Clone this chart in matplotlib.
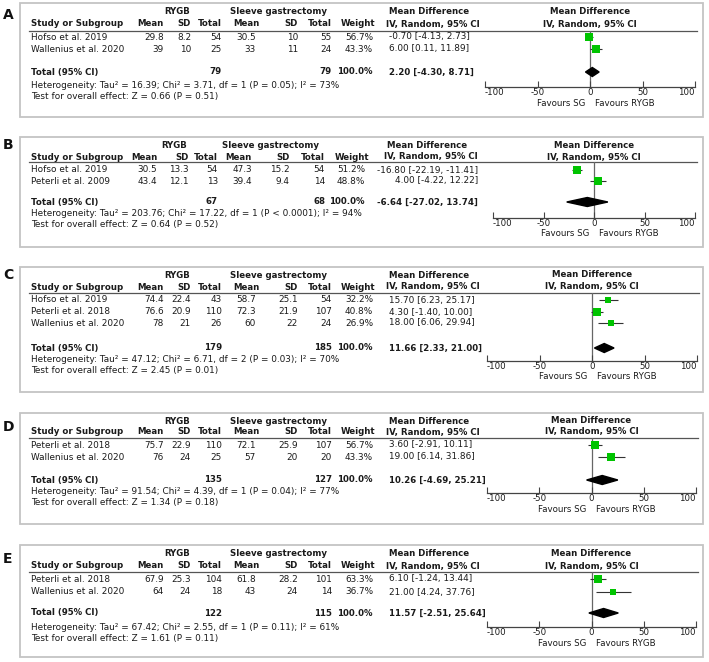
import matplotlib
matplotlib.use("Agg")
import matplotlib.pyplot as plt
from matplotlib.patches import Rectangle

plt.rcParams['font.family'] = ['DejaVu Sans']
plt.rcParams['axes.unicode_minus'] = False

# ---------------- data ----------------
labels = ["A", "B", "C", "D", "E"]

studies_A = ["Hofso et al. 2019", "Wallenius et al. 2020"]
rm_A = [29.8, 39]; rsd_A = [8.2, 10]; rn_A = [54, 25]
sm_A = [30.5, 33]; ssd_A = [10, 11]; sn_A = [55, 24]
w_A = [56.7, 43.3]
md_A = [-0.70, 6.00]; lo_A = [-4.13, 0.11]; hi_A = [2.73, 11.89]
tot_A = [79, 79]; pooled_A = [2.20, -4.30, 8.71]
het_A = ["16.39", "3.71", "1", "= 0.05", "73"]; z_A = ["0.66", "0.51"]

studies_B = ["Hofso et al. 2019", "Peterli et al. 2009"]
rm_B = [30.5, 43.4]; rsd_B = [13.3, 12.1]; rn_B = [54, 13]
sm_B = [47.3, 39.4]; ssd_B = [15.2, 9.4]; sn_B = [54, 14]
w_B = [51.2, 48.8]
md_B = [-16.80, 4.00]; lo_B = [-22.19, -4.22]; hi_B = [-11.41, 12.22]
tot_B = [67, 68]; pooled_B = [-6.64, -27.02, 13.74]
het_B = ["203.76", "17.22", "1", "< 0.0001", "94"]; z_B = ["0.64", "0.52"]

studies_C = ["Hofso et al. 2019", "Peterli et al. 2018", "Wallenius et al. 2020"]
rm_C = [74.4, 76.6, 78]; rsd_C = [22.4, 20.9, 21]; rn_C = [43, 110, 26]
sm_C = [58.7, 72.3, 60]; ssd_C = [25.1, 21.9, 22]; sn_C = [54, 107, 24]
w_C = [32.2, 40.8, 26.9]
md_C = [15.70, 4.30, 18.00]; lo_C = [6.23, -1.40, 6.06]; hi_C = [25.17, 10.00, 29.94]
tot_C = [179, 185]; pooled_C = [11.66, 2.33, 21.00]
het_C = ["47.12", "6.71", "2", "= 0.03", "70"]; z_C = ["2.45", "0.01"]

studies_D = ["Peterli et al. 2018", "Wallenius et al. 2020"]
rm_D = [75.7, 76]; rsd_D = [22.9, 24]; rn_D = [110, 25]
sm_D = [72.1, 57]; ssd_D = [25.9, 20]; sn_D = [107, 20]
w_D = [56.7, 43.3]
md_D = [3.60, 19.00]; lo_D = [-2.91, 6.14]; hi_D = [10.11, 31.86]
tot_D = [135, 127]; pooled_D = [10.26, -4.69, 25.21]
het_D = ["91.54", "4.39", "1", "= 0.04", "77"]; z_D = ["1.34", "0.18"]

studies_E = ["Peterli et al. 2018", "Wallenius et al. 2020"]
rm_E = [67.9, 64]; rsd_E = [25.3, 24]; rn_E = [104, 18]
sm_E = [61.8, 43]; ssd_E = [28.2, 24]; sn_E = [101, 14]
w_E = [63.3, 36.7]
md_E = [6.10, 21.00]; lo_E = [-1.24, 4.24]; hi_E = [13.44, 37.76]
tot_E = [122, 115]; pooled_E = [11.57, -2.51, 25.64]
het_E = ["67.42", "2.55", "1", "= 0.11", "61"]; z_E = ["1.61", "0.11"]

ticks = [-100, -50, 0, 50, 100]

panels_data = [
    (studies_A, rm_A, rsd_A, rn_A, sm_A, ssd_A, sn_A, w_A, md_A, lo_A, hi_A, tot_A, pooled_A, het_A, z_A),
    (studies_B, rm_B, rsd_B, rn_B, sm_B, ssd_B, sn_B, w_B, md_B, lo_B, hi_B, tot_B, pooled_B, het_B, z_B),
    (studies_C, rm_C, rsd_C, rn_C, sm_C, ssd_C, sn_C, w_C, md_C, lo_C, hi_C, tot_C, pooled_C, het_C, z_C),
    (studies_D, rm_D, rsd_D, rn_D, sm_D, ssd_D, sn_D, w_D, md_D, lo_D, hi_D, tot_D, pooled_D, het_D, z_D),
    (studies_E, rm_E, rsd_E, rn_E, sm_E, ssd_E, sn_E, w_E, md_E, lo_E, hi_E, tot_E, pooled_E, het_E, z_E),
]

# ---------------- layout (pixels) ----------------
lay = [
    dict(top=3, bot=117, lab=15, h1=9, h2=21, line=28, rows=[34, 46], total=69, het=82, test=94, axis=84, fav=100, x0=485, x1=695),
    dict(top=137, bot=247, lab=145, h1=8, h2=20, line=25, rows=[33, 44], total=65, het=76, test=87, axis=81, fav=96, x0=493, x1=695),
    dict(top=267, bot=392, lab=275, h1=8, h2=20, line=26, rows=[33, 45, 56], total=81, het=93, test=104, axis=94, fav=110, x0=487, x1=697),
    dict(top=413, bot=524, lab=427, h1=8, h2=19, line=25, rows=[32, 44], total=67, het=79, test=90, axis=80, fav=96, x0=487, x1=696),
    dict(top=545, bot=657, lab=559, h1=9, h2=21, line=27, rows=[34, 47], total=68, het=82, test=93, axis=82, fav=98, x0=487, x1=696),
]
col_def = dict(study=31, rygb=177, m1=164, sd1=191, n1=222, sg=279, m2h=260, m2=256, sd2=298, n2=332,
               wh=375, w=373, mdh1=429, mdh2=433, mdh2_ha='center', md=389, md_ha='left')
col_B = dict(study=31, rygb=174, m1=157, sd1=189, n1=218, sg=271, m2h=252, m2=252, sd2=290, n2=325,
             wh=369, w=365, mdh1=427, mdh2=478, mdh2_ha='right', md=478, md_ha='right')
cols = [col_def, col_B, col_def, col_def, col_def]

W, H = 709, 662
fig = plt.figure(figsize=(W / 100, H / 100), dpi=100)
bg = fig.add_axes([0, 0, 1, 1], zorder=0)
bg.set_xlim(0, W); bg.set_ylim(H, 0); bg.axis('off')

FS = 6.4
FB = 6.2
FT = 6.2
TXT = '#1a1a1a'
GREEN = '#00c400'

for i, (data, L, C) in enumerate(zip(panels_data, lay, cols)):
    (studies, rm, rsd, rn, sm, ssd, sn, w, md, lo, hi, tot, pooled, het, z) = data
    T = L['top']
    # box
    bg.add_patch(Rectangle((20, T), 683, L['bot'] - L['top'], fill=False, edgecolor='#c4c4c4', lw=1.3))
    bg.text(8, L['lab'], labels[i], fontsize=10, fontweight='bold', ha='center', va='center', color='#111')

    def t(x, y, s, ha='right', bold=False):
        bg.text(x, T + y, s, ha=ha, va='center', fontsize=FB if bold else FS,
                fontweight='bold' if bold else 'normal', color=TXT)

    # headers
    t(C['rygb'], L['h1'], "RYGB", 'center', True)
    t(C['sg'], L['h1'], "Sleeve gastrectomy", 'center', True)
    t(C['mdh1'], L['h1'], "Mean Difference", 'center', True)
    t(C['study'], L['h2'], "Study or Subgroup", 'left', True)
    t(C['m1'], L['h2'], "Mean", 'right', True)
    t(C['sd1'], L['h2'], "SD", 'right', True)
    t(C['n1'], L['h2'], "Total", 'right', True)
    t(C['m2h'], L['h2'], "Mean", 'right', True)
    t(C['sd2'], L['h2'], "SD", 'right', True)
    t(C['n2'], L['h2'], "Total", 'right', True)
    t(C['wh'], L['h2'], "Weight", 'right', True)
    t(C['mdh2'], L['h2'], "IV, Random, 95% CI", C['mdh2_ha'], True)
    bg.plot([29, L['x1'] + 2], [T + L['line']] * 2, color='#555555', lw=0.9)

    for j, s in enumerate(studies):
        y = L['rows'][j]
        t(C['study'], y, s, 'left')
        t(C['m1'], y, f"{rm[j]:g}")
        t(C['sd1'], y, f"{rsd[j]:g}")
        t(C['n1'], y, f"{rn[j]}")
        t(C['m2'], y, f"{sm[j]:g}")
        t(C['sd2'], y, f"{ssd[j]:g}")
        t(C['n2'], y, f"{sn[j]}")
        t(C['w'], y, f"{w[j]:.1f}%")
        t(C['md'], y, f"{md[j]:.2f} [{lo[j]:.2f}, {hi[j]:.2f}]", C['md_ha'])

    y = L['total']
    t(C['study'], y, "Total (95% CI)", 'left', True)
    t(C['n1'], y, f"{tot[0]}", 'right', True)
    t(C['n2'], y, f"{tot[1]}", 'right', True)
    t(C['w'], y, "100.0%", 'right', True)
    t(C['md'], y, f"{pooled[0]:.2f} [{pooled[1]:.2f}, {pooled[2]:.2f}]", C['md_ha'], True)
    t(C['study'], L['het'],
      f"Heterogeneity: Tau\u00b2 = {het[0]}; Chi\u00b2 = {het[1]}, df = {het[2]} (P {het[3]}); I\u00b2 = {het[4]}%", 'left')
    t(C['study'], L['test'], f"Test for overall effect: Z = {z[0]} (P = {z[1]})", 'left')

    # forest axes
    x0, x1 = L['x0'], L['x1']
    ax = fig.add_axes([x0 / W, 1 - (T + L['axis']) / H, (x1 - x0) / W, (L['axis'] - L['line']) / H], zorder=2)
    ax.patch.set_alpha(0)
    ax.set_xlim(ticks[0], ticks[-1])
    ax.set_ylim(L['axis'], L['line'])
    for sp in ['top', 'left', 'right']:
        ax.spines[sp].set_visible(False)
    ax.spines['bottom'].set_color('#444444')
    ax.spines['bottom'].set_linewidth(0.9)
    ax.set_yticks([])
    ax.set_xticks(ticks)
    ax.set_xticklabels([str(v) for v in ticks])
    ax.tick_params(axis='x', direction='in', length=4.5, width=0.8, color='#444444',
                   labelsize=FT, pad=0.8, labelcolor=TXT)
    tl = ax.get_xticklabels()
    tl[0].set_ha('left'); tl[-1].set_ha('right')
    ax.axvline(0, color='#666666', lw=0.9, zorder=1)

    for j in range(len(studies)):
        y = L['rows'][j]
        ax.hlines(y, lo[j], hi[j], color='#333333', lw=0.8, zorder=2)
        side_px = 1.12 * w[j] ** 0.5
        ax.plot([md[j]], [y], marker='s', ms=side_px * 0.72, color=GREEN, mec=GREEN, mew=0, zorder=3)
    yt = L['total']
    hh = 4.5
    ax.fill([pooled[1], pooled[0], pooled[2], pooled[0]], [yt, yt - hh, yt, yt + hh],
            color='black', zorder=3, clip_on=False)

    ax.text(0, L['h1'], "Mean Difference", ha='center', va='center', fontsize=FB, fontweight='bold', color=TXT)
    ax.text(0, L['h2'], "IV, Random, 95% CI", ha='center', va='center', fontsize=FB, fontweight='bold', color=TXT)
    ax.text(-4.5, L['fav'], "Favours SG", ha='right', va='center', fontsize=FT, color=TXT)
    ax.text(4.5, L['fav'], "Favours RYGB", ha='left', va='center', fontsize=FT, color=TXT)

fig.savefig("out.png", dpi=100)
